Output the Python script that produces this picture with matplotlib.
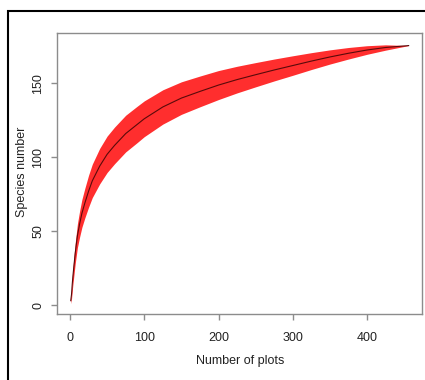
import matplotlib
matplotlib.use("Agg")
import matplotlib.pyplot as plt
from matplotlib.patches import Rectangle

plt.rcParams['font.family'] = ['Liberation Sans', 'DejaVu Sans']

# Data (species accumulation curve)
plots = [1, 2, 3, 4, 5, 7, 10, 13, 16, 20, 25, 30, 40, 50, 60, 75, 90, 100,
         125, 150, 175, 200, 225, 250, 275, 300, 325, 350, 375, 400, 425, 456]
species = [3, 7, 14, 20, 25, 35, 47, 55, 62, 69, 77, 84, 94, 102, 108, 116, 122, 126,
           134, 140, 144.5, 148.8, 152.5, 155.8, 159, 162, 165, 167.8, 170.3, 172.5, 174.2, 175.5]
sd = [2, 3, 4.5, 5.5, 6, 7, 8, 8.8, 9.4, 10, 10.8, 11.3, 12, 12.3, 12.4, 12.4, 12.3, 12.1,
      11.6, 11.0, 10.4, 9.8, 9.0, 8.2, 7.4, 6.6, 5.7, 4.8, 3.9, 2.9, 1.8, 0]

xticks = [0, 100, 200, 300, 400]
yticks = [0, 50, 100, 150]

fig = plt.figure(figsize=(4.25, 3.8), dpi=100)
ax = fig.add_axes([57/425, 66/380, 365/425, 281/380])

lower = [m - s for m, s in zip(species, sd)]
upper = [m + s for m, s in zip(species, sd)]
ax.fill_between(plots, lower, upper, color='#ff2e2e', linewidth=0)
ax.plot(plots, species, color='#5a0a0a', linewidth=0.8)

ax.set_xlim(-17.5, 474)
ax.set_ylim(-6, 184)
ax.set_xticks(xticks)
ax.set_yticks(yticks)
ax.set_yticklabels([str(v) for v in yticks], rotation=90, va='center')
for sp in ax.spines.values():
    sp.set_color('#8c8c8c')
    sp.set_linewidth(1.0)
ax.tick_params(axis='both', colors='#8c8c8c', length=4, width=1.0, labelsize=9,
               labelcolor='#222222')
ax.tick_params(axis='x', pad=9)
ax.tick_params(axis='y', pad=5)
ax.set_xlabel('Number of plots', fontsize=9, color='#222222')
ax.set_ylabel('Species number', fontsize=9, color='#222222')
ax.xaxis.set_label_coords((240 - 57) / 365, (314 - 355) / 281)
ax.yaxis.set_label_coords((28 - 57) / 365, (314 - 172) / 281)

# outer frame (top & left visible)
fig.patches.append(Rectangle((8/425, -0.1), 1.2, (380-11)/380 + 0.1,
                             transform=fig.transFigure, fill=False,
                             edgecolor='black', linewidth=1.5))

fig.savefig('out.png', dpi=100)
